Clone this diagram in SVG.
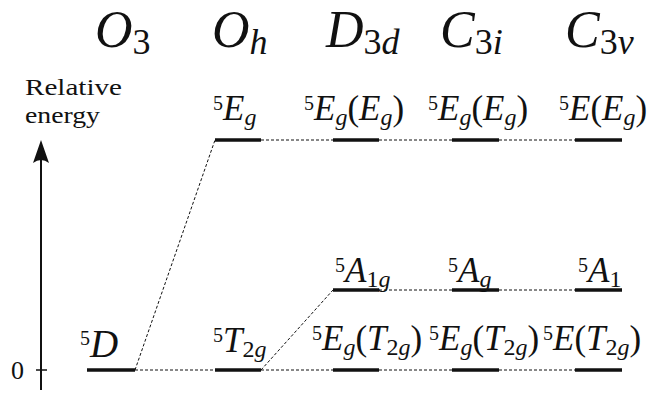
<svg xmlns="http://www.w3.org/2000/svg" width="663" height="394" viewBox="0 0 663 394">
<defs>
<style>
text{font-family:'Liberation Serif','Times New Roman',serif;fill:#111}
.m{font-style:italic}
.hd{font-size:52px}
.hs{font-size:36px}
.lb{font-size:35px}
.sup{font-style:normal;font-size:20px}
.sub{font-size:24px}
.n{font-style:normal}
.lvl{stroke:#111;stroke-width:3.5}
.dl{stroke:#111;stroke-width:1;stroke-dasharray:3 2;fill:none}
</style>
</defs>
<rect width="663" height="394" fill="#fff"/>

<g id="headers">
<text class="m hd" x="95" y="47">O<tspan class="hs n" dy="7">3</tspan></text>
<text class="m hd" x="212" y="47">O<tspan class="hs" dy="7">h</tspan></text>
<text class="m hd" x="326" y="47">D<tspan class="hs" dy="7"><tspan class="n">3</tspan>d</tspan></text>
<text class="m hd" x="440" y="47">C<tspan class="hs" dy="7"><tspan class="n">3</tspan>i</tspan></text>
<text class="m hd" x="565" y="47">C<tspan class="hs" dy="7"><tspan class="n">3</tspan>v</tspan></text>
</g>

<g id="axis">
<text x="25" y="95" font-size="24" textLength="97" lengthAdjust="spacingAndGlyphs">Relative</text>
<text x="25" y="123" font-size="24" textLength="75" lengthAdjust="spacingAndGlyphs">energy</text>
<line x1="41" y1="390" x2="41" y2="158" stroke="#111" stroke-width="2"/>
<path d="M41,140 L33,163 Q41,157 49,163 Z" fill="#111"/>
<line x1="36" y1="370" x2="47" y2="370" stroke="#111" stroke-width="1.5"/>
<text x="11" y="379" font-size="26">0</text>
</g>

<g id="connectors">
<line class="dl" x1="135" y1="370" x2="215" y2="140"/>
<line class="dl" x1="135" y1="370" x2="215" y2="370"/>
<line class="dl" x1="261" y1="140" x2="333" y2="140"/>
<line class="dl" x1="379" y1="140" x2="452" y2="140"/>
<line class="dl" x1="499" y1="140" x2="575" y2="140"/>
<line class="dl" x1="261" y1="370" x2="333" y2="290"/>
<line class="dl" x1="379" y1="290" x2="452" y2="290"/>
<line class="dl" x1="499" y1="290" x2="575" y2="290"/>
<line class="dl" x1="261" y1="370" x2="333" y2="370"/>
<line class="dl" x1="379" y1="370" x2="452" y2="370"/>
<line class="dl" x1="499" y1="370" x2="575" y2="370"/>
</g>

<g id="O3-5D">
<line class="lvl" x1="87" y1="370" x2="135" y2="370"/>
<text class="m" x="80" y="357" font-size="39"><tspan class="sup" font-size="22" dy="-12">5</tspan><tspan dy="12">D</tspan></text>
</g>

<g id="Oh-5Eg">
<line class="lvl" x1="215" y1="140" x2="261" y2="140"/>
<text class="m lb" x="213" y="120"><tspan class="sup" dy="-10">5</tspan><tspan dy="10">E</tspan><tspan class="sub" dy="5">g</tspan></text>
</g>
<g id="Oh-5T2g">
<line class="lvl" x1="215" y1="370" x2="261" y2="370"/>
<text class="m lb" x="213" y="352"><tspan class="sup" dy="-10">5</tspan><tspan dy="10">T</tspan><tspan class="sub" dy="5"><tspan class="n">2</tspan>g</tspan></text>
</g>

<g id="D3d-5Eg">
<line class="lvl" x1="333" y1="140" x2="379" y2="140"/>
<text class="m lb" x="304" y="120"><tspan class="sup" dy="-10">5</tspan><tspan dy="10">E</tspan><tspan class="sub" dy="5">g</tspan><tspan class="n" dy="-5">(</tspan>E<tspan class="sub" dy="5">g</tspan><tspan class="n" dy="-5">)</tspan></text>
</g>
<g id="D3d-5A1g">
<line class="lvl" x1="333" y1="290" x2="379" y2="290"/>
<text class="m lb" x="335" y="282"><tspan class="sup" dy="-10">5</tspan><tspan dy="10">A</tspan><tspan class="sub" dy="5"><tspan class="n">1</tspan>g</tspan></text>
</g>
<g id="D3d-5EgT2g">
<line class="lvl" x1="333" y1="370" x2="379" y2="370"/>
<text class="m lb" x="312" y="350"><tspan class="sup" dy="-10">5</tspan><tspan dy="10">E</tspan><tspan class="sub" dy="5">g</tspan><tspan class="n" dy="-5">(</tspan>T<tspan class="sub" dy="5"><tspan class="n">2</tspan>g</tspan><tspan class="n" dy="-5">)</tspan></text>
</g>

<g id="C3i-5Eg">
<line class="lvl" x1="452" y1="140" x2="499" y2="140"/>
<text class="m lb" x="428" y="120"><tspan class="sup" dy="-10">5</tspan><tspan dy="10">E</tspan><tspan class="sub" dy="5">g</tspan><tspan class="n" dy="-5">(</tspan>E<tspan class="sub" dy="5">g</tspan><tspan class="n" dy="-5">)</tspan></text>
</g>
<g id="C3i-5Ag">
<line class="lvl" x1="452" y1="290" x2="499" y2="290"/>
<text class="m lb" x="448" y="282"><tspan class="sup" dy="-10">5</tspan><tspan dy="10">A</tspan><tspan class="sub" dy="5">g</tspan></text>
</g>
<g id="C3i-5EgT2g">
<line class="lvl" x1="452" y1="370" x2="499" y2="370"/>
<text class="m lb" x="429" y="350"><tspan class="sup" dy="-10">5</tspan><tspan dy="10">E</tspan><tspan class="sub" dy="5">g</tspan><tspan class="n" dy="-5">(</tspan>T<tspan class="sub" dy="5"><tspan class="n">2</tspan>g</tspan><tspan class="n" dy="-5">)</tspan></text>
</g>

<g id="C3v-5E">
<line class="lvl" x1="575" y1="140" x2="622" y2="140"/>
<text class="m lb" x="559" y="120"><tspan class="sup" dy="-10">5</tspan><tspan dy="10">E</tspan><tspan class="n">(</tspan>E<tspan class="sub" dy="5">g</tspan><tspan class="n" dy="-5">)</tspan></text>
</g>
<g id="C3v-5A1">
<line class="lvl" x1="575" y1="290" x2="622" y2="290"/>
<text class="m lb" x="578" y="282"><tspan class="sup" dy="-10">5</tspan><tspan dy="10">A</tspan><tspan class="sub n" dy="5">1</tspan></text>
</g>
<g id="C3v-5ET2g">
<line class="lvl" x1="575" y1="370" x2="622" y2="370"/>
<text class="m lb" x="543" y="350"><tspan class="sup" dy="-10">5</tspan><tspan dy="10">E</tspan><tspan class="n">(</tspan>T<tspan class="sub" dy="5"><tspan class="n">2</tspan>g</tspan><tspan class="n" dy="-5">)</tspan></text>
</g>
</svg>
